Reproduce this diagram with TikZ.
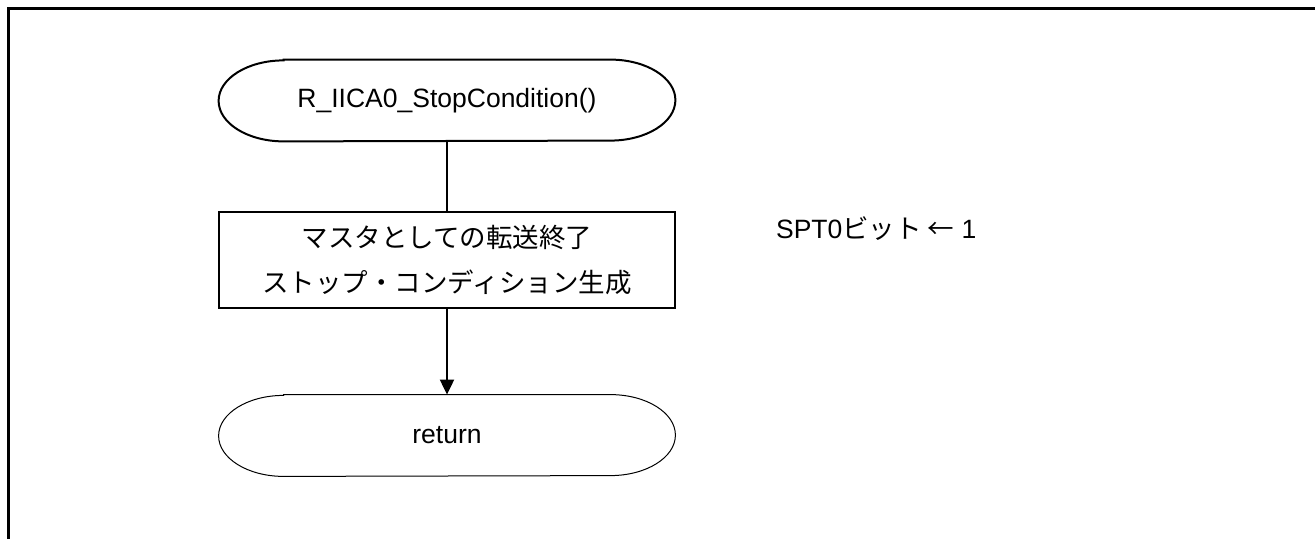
\documentclass[tikz,border=0pt]{standalone}
\usepackage{fontspec}
\setmainfont{Liberation Sans}
\newfontfamily\cjk{Noto Sans CJK JP}
\usetikzlibrary{arrows.meta}
\begin{document}
\begin{tikzpicture}[x=0.5pt,y=-0.5pt,
  font=\fontsize{13.25}{22.5}\selectfont,
  terminal/.style={minimum width=228pt, minimum height=40.5pt, inner sep=0pt, align=center},
  process/.style={draw=black, line width=1pt, minimum width=228pt, minimum height=48pt, inner sep=0pt, align=center, font=\cjk\fontsize{13.25}{22.5}\selectfont},
  flow/.style={line width=1pt},
  frameline/.style={line width=1.5pt}]
  \useasboundingbox (0,0) rectangle (1315,539);
  % frame
  \draw[frameline] (8,539) -- (8,8.5) -- (1315,8.5);
  % nodes
  \node [terminal](start) at (447,100.5){R\_IICA0\_StopCondition()};
  \node [process](stop) at (447,260){マスタとしての転送終了\\ストップ・コンディション生成};
  \node [terminal](ret) at (447,435.5){return};
  \node [anchor=base west](note) at (769,239){SPT0{\cjk ビット ←} 1};
  % terminal outlines
  \draw[line width=1pt] ([xshift=32.5pt]start.north west) -- ([xshift=-32.5pt]start.north east)
    arc[start angle=90, end angle=-90, x radius=32.5pt, y radius=20.25pt]
    -- ([xshift=32.5pt]start.south west)
    arc[start angle=270, end angle=90, x radius=32.5pt, y radius=20.25pt] -- cycle;
  \draw[line width=0.5pt] ([xshift=32.5pt]ret.north west) -- ([xshift=-32.5pt]ret.north east)
    arc[start angle=90, end angle=-90, x radius=32.5pt, y radius=20.25pt]
    -- ([xshift=32.5pt]ret.south west)
    arc[start angle=270, end angle=90, x radius=32.5pt, y radius=20.25pt] -- cycle;
  % connectors
  \draw[flow] (start.south) -- (stop.north);
  \draw[flow, -{Triangle[length=7.5pt, width=7pt]}] (stop.south) -- (ret.north);
\end{tikzpicture}
\end{document}
